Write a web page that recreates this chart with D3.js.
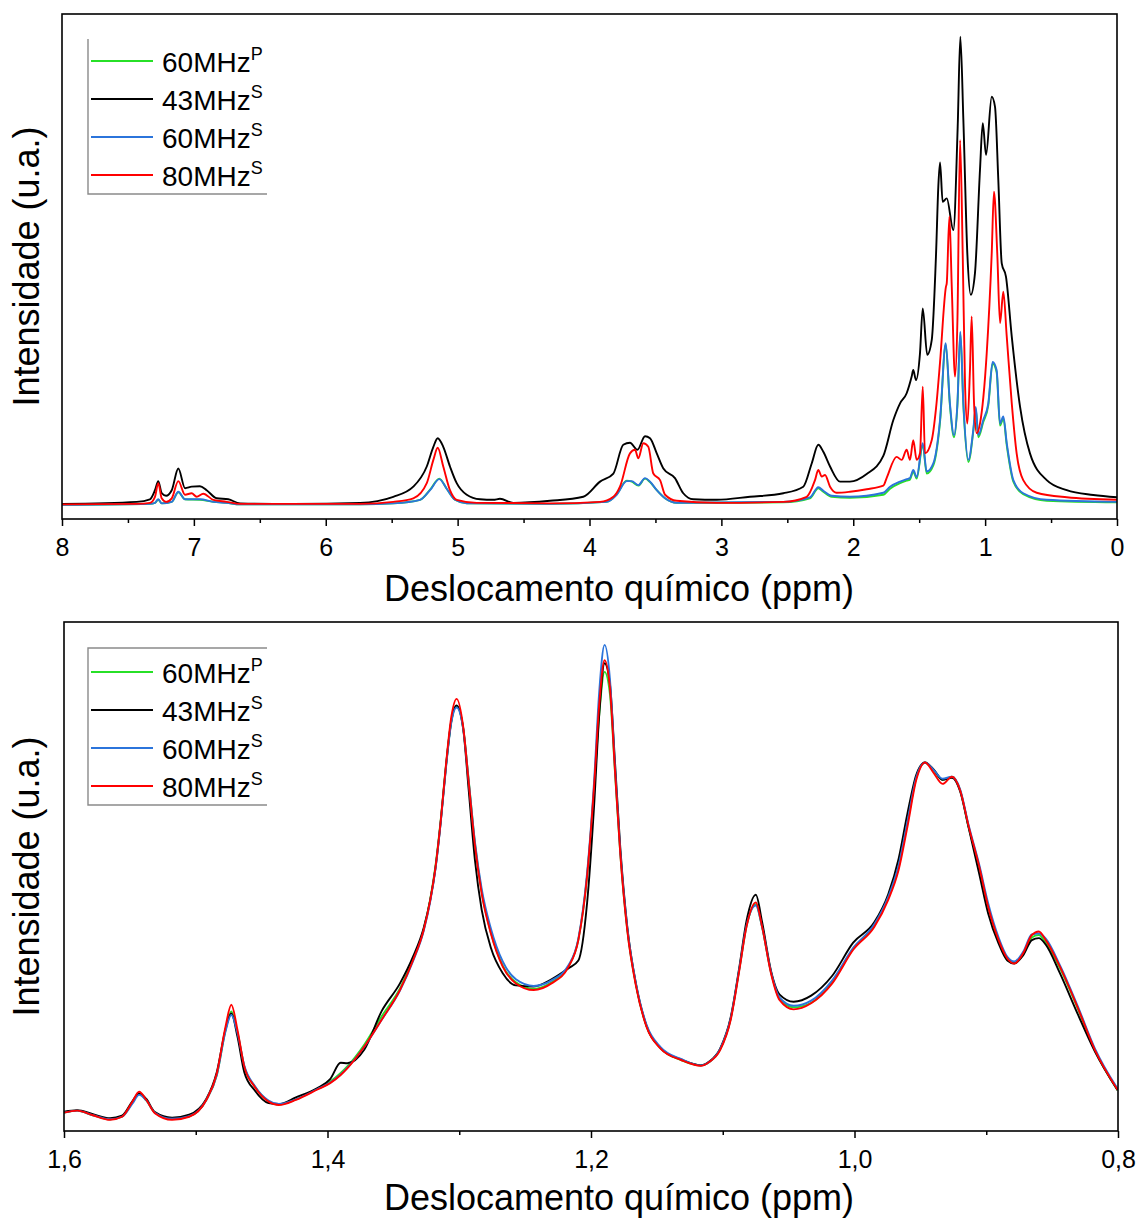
<!DOCTYPE html>
<html>
<head>
<meta charset="utf-8">
<script src="https://cdn.jsdelivr.net/npm/d3@7"></script>
<style>
body{margin:0;background:#fff;}
text{font-family:"Liberation Sans",Arial,sans-serif;fill:#000;}
</style>
</head>
<body>
<svg id="chart" width="1143" height="1220"></svg>
<script>
// legend labels (name + superscript) and colours, in drawing order
var seriesNames = ["60MHz", "43MHz", "60MHz", "80MHz"];
var seriesSup = ["P", "S", "S", "S"];
var seriesColors = ["#27e027", "#000000", "#2b74db", "#ff0000"];

// ---- full spectrum (8 - 0 ppm), each trace ----
var fullTicks = [8, 7, 6, 5, 4, 3, 2, 1, 0];
var fullMinor = [7.5, 6.5, 5.5, 4.5, 3.5, 2.5, 1.5, 0.5];

var fullGreenPpm = [8.000,7.333,7.295,7.270,7.244,7.168,7.118,7.067,6.954,6.853,6.751,6.650,5.740,5.488,5.285,5.209,5.139,5.083,5.020,4.931,4.300,3.870,3.794,3.718,3.680,3.630,3.579,3.541,3.490,3.427,3.339,2.530,2.328,2.265,2.227,2.163,2.025,1.772,1.721,1.645,1.595,1.570,1.545,1.519,1.473,1.443,1.393,1.342,1.299,1.267,1.236,1.210,1.188,1.165,1.127,1.090,1.071,1.052,1.014,0.976,0.943,0.913,0.887,0.862,0.836,0.786,0.711,0.533,0.000];
var fullGreen = [2.8,3.0,3.2,3.8,3.1,3.4,5.3,3.9,3.8,3.4,3.2,2.9,2.9,3.1,3.8,5.8,8.0,6.0,3.8,3.1,3.0,3.4,4.9,7.6,7.4,6.6,8.0,7.3,5.7,4.1,3.2,3.3,4.1,6.1,5.4,4.4,4.2,4.8,6.0,7.1,7.6,7.8,9.4,8.0,14.6,9.0,10.6,19.2,34.5,22.5,16.2,22.6,36.8,22.5,11.3,17.3,21.9,16.2,19.2,22.5,30.8,29.1,18.5,19.9,14.6,7.4,4.9,3.6,3.3];

var fullBlackPpm = [8.000,7.434,7.333,7.295,7.270,7.244,7.211,7.168,7.118,7.067,7.017,6.954,6.903,6.827,6.739,6.650,6.246,5.740,5.488,5.336,5.234,5.184,5.151,5.109,5.058,5.007,4.931,4.830,4.729,4.679,4.578,4.300,4.047,3.920,3.819,3.744,3.693,3.637,3.579,3.541,3.490,3.440,3.352,3.289,3.213,3.036,2.783,2.530,2.379,2.315,2.265,2.227,2.176,2.100,2.025,1.898,1.772,1.696,1.645,1.595,1.557,1.545,1.524,1.494,1.473,1.439,1.405,1.372,1.355,1.342,1.322,1.291,1.241,1.208,1.188,1.165,1.135,1.109,1.077,1.039,1.018,0.993,0.950,0.925,0.900,0.874,0.842,0.798,0.735,0.660,0.533,0.381,0.180,0.000];
var fullBlack = [3.0,3.4,3.9,5.7,7.5,5.1,4.6,5.7,10.0,6.1,6.4,6.5,5.7,4.1,3.9,3.1,3.0,3.2,4.4,6.4,10.4,14.3,16.0,14.3,10.4,7.1,4.8,3.9,3.8,4.0,3.2,3.6,4.4,7.4,9.0,14.7,15.1,13.7,16.4,16.0,13.0,10.0,8.1,5.1,3.9,3.8,4.4,5.1,6.4,11.0,14.7,13.3,10.4,7.4,7.4,8.9,12.5,19.6,22.9,24.9,28.2,29.5,27.5,32.8,41.7,32.5,35.4,52.6,65.8,70.6,62.8,63.5,57.2,77.7,95.5,79.0,52.6,44.4,48.7,69.1,78.4,72.1,83.6,81.6,67.1,50.6,48.0,36.1,22.2,13.0,7.7,5.7,4.75,4.3];

var fullBluePpm = fullGreenPpm;
var fullBlue = [2.8,3.0,3.2,3.9,3.1,3.4,5.4,3.9,3.9,3.4,3.2,2.9,2.9,3.1,3.8,5.7,7.9,6.0,3.8,3.1,3.0,3.4,4.8,7.5,7.5,6.7,8.1,7.4,5.7,4.1,3.2,3.4,4.3,6.3,5.6,4.6,4.4,5.2,6.4,7.4,7.9,8.1,9.7,8.3,15.0,9.4,11.0,19.6,34.8,22.9,16.6,22.9,37.1,22.9,11.7,17.6,22.2,16.6,19.6,22.9,31.1,29.5,18.9,20.3,15.0,7.7,5.1,3.8,3.4];

var fullRedPpm = [8.000,7.434,7.333,7.295,7.270,7.244,7.211,7.168,7.118,7.067,7.017,6.979,6.929,6.853,6.751,6.650,5.740,5.488,5.336,5.234,5.184,5.151,5.109,5.058,5.007,4.855,4.300,3.920,3.819,3.769,3.693,3.655,3.630,3.592,3.554,3.516,3.465,3.427,3.339,3.036,2.530,2.353,2.290,2.265,2.239,2.214,2.176,2.126,2.025,1.898,1.772,1.747,1.671,1.633,1.595,1.570,1.545,1.519,1.494,1.473,1.456,1.405,1.372,1.342,1.297,1.291,1.271,1.253,1.228,1.210,1.190,1.170,1.152,1.135,1.115,1.102,1.084,1.064,1.039,0.988,0.950,0.933,0.908,0.887,0.862,0.836,0.798,0.761,0.711,0.609,0.381,0.000];
var fullRed = [2.9,3.0,3.2,4.4,7.1,4.1,3.4,4.1,7.5,4.8,5.1,4.4,5.0,3.8,3.4,3.0,3.0,3.4,4.1,7.1,11.7,14.1,10.4,5.7,3.8,3.2,3.1,3.4,4.4,6.4,13.0,13.7,12.0,15.0,14.3,9.0,7.7,4.8,3.6,3.2,3.4,4.4,7.7,9.7,8.4,8.7,6.4,5.2,5.4,5.9,6.6,8.1,12.3,11.7,13.7,11.7,15.6,11.7,13.0,26.2,13.0,15.6,22.0,31.0,46.0,46.7,59.9,46.0,28.2,39.4,75.0,52.6,26.2,18.9,29.5,40.1,22.9,17.0,18.9,32.8,52.6,64.8,52.6,38.8,45.0,36.1,22.9,13.0,7.7,5.2,4.3,3.8];

// ---- expanded region (1,6 - 0,8 ppm), shared ppm grid ----
var zoomTicks = [1.6, 1.4, 1.2, 1.0, 0.8];
var zoomMinor = [1.5, 1.3, 1.1, 0.9];
var zoomPpm = [1.600,1.590,1.578,1.565,1.556,1.548,1.543,1.5375,1.531,1.518,1.505,1.492,1.484,1.4774,1.473,1.4683,1.4631,1.4553,1.4448,1.437,1.424,1.408,1.398,1.390,1.385,1.372,1.359,1.345,1.335,1.327,1.322,1.318,1.314,1.310,1.306,1.302,1.297,1.293,1.288,1.283,1.276,1.267,1.257,1.2435,1.230,1.217,1.2096,1.203,1.1977,1.1937,1.1897,1.1857,1.1818,1.1778,1.1725,1.1658,1.1579,1.1472,1.1312,1.1167,1.110,1.102,1.094,1.0874,1.082,1.0749,1.0701,1.0634,1.0568,1.0462,1.0329,1.0169,1.001,0.985,0.9744,0.9665,0.9598,0.9531,0.9465,0.9398,0.9332,0.926,0.9199,0.9133,0.9053,0.8986,0.8906,0.884,0.8787,0.872,0.8654,0.8601,0.8548,0.8441,0.8308,0.8175,0.8003];
var zoomGreen = [3.6,4.0,3.1,2.3,2.8,5.6,7.3,6.0,3.6,2.4,2.9,6.1,11.0,19.8,23.5,19.3,12.6,8.8,5.9,5.2,6.2,8.3,9.7,11.4,12.7,17.0,22.5,28.0,33.8,39.6,45.6,52.2,61.3,72.0,80.5,83.5,79.2,69.4,56.3,47.0,39.0,32.5,29.2,27.9,29.2,32.4,37.6,50.0,67.0,82.0,90.2,86.0,70.5,54.6,39.6,28.6,20.6,16.3,13.9,12.9,13.6,16.0,22.0,31.8,40.2,44.5,40.0,31.2,26.0,24.3,25.2,29.2,35.8,40.4,45.9,52.0,60.6,69.4,72.4,70.8,69.0,69.6,67.0,59.6,51.7,44.2,37.4,33.6,33.0,34.7,38.0,38.5,37.0,32.0,24.2,15.8,8.0];
var zoomBlack = [3.8,4.1,3.3,2.5,3.0,5.9,7.4,6.3,3.7,2.6,3.2,6.3,11.6,20.0,23.1,18.5,11.5,8.0,5.5,5.3,6.6,8.4,10.2,13.4,13.3,16.0,23.5,29.0,34.3,39.9,45.4,51.7,60.9,71.8,80.6,83.6,79.0,67.5,53.0,43.5,36.0,31.0,28.6,28.4,29.8,32.0,33.5,44.7,63.7,82.0,91.9,88.0,72.5,55.8,40.2,28.8,20.7,16.3,14.0,12.9,13.7,16.2,22.3,32.2,41.2,46.4,41.0,31.5,26.8,25.4,26.6,30.5,37.0,41.0,46.5,53.5,62.4,70.0,72.4,71.0,69.0,69.4,66.8,59.5,50.5,42.8,36.8,33.5,32.9,34.5,37.5,37.9,36.6,31.0,23.1,15.6,8.0];
var zoomBlue = [3.6,4.0,3.1,2.3,2.8,5.4,7.1,6.0,3.6,2.4,2.9,6.1,11.0,19.6,22.8,19.2,12.8,8.9,6.0,5.3,6.2,8.2,9.5,11.1,12.4,16.6,21.8,27.6,33.4,39.3,45.1,51.6,60.8,71.6,80.3,83.2,79.0,69.2,56.6,47.6,39.8,33.3,29.8,28.5,29.6,32.6,37.8,50.6,68.5,86.5,95.5,89.0,71.5,55.0,40.0,28.9,20.9,16.5,14.1,12.9,13.6,16.1,22.1,31.9,40.3,44.3,40.0,31.3,26.2,24.6,25.6,29.6,36.0,40.6,46.0,52.2,60.8,69.5,72.4,70.9,69.2,69.6,67.2,60.0,52.3,44.8,38.0,34.2,33.3,35.2,38.6,38.8,37.8,32.6,24.7,16.2,8.3];
var zoomRed = [3.6,4.0,3.1,2.2,2.8,5.8,7.7,6.1,3.5,2.2,2.8,6.1,11.3,20.5,24.8,19.8,12.6,8.7,5.8,5.1,6.1,8.1,9.4,11.0,12.3,16.6,21.8,27.7,33.6,39.5,45.4,51.9,61.1,72.2,81.4,84.9,79.4,69.0,55.9,46.7,38.8,32.3,29.0,27.7,29.0,32.3,37.5,50.0,67.6,84.0,92.5,87.3,70.9,54.6,39.5,28.4,20.5,16.2,13.9,12.8,13.6,15.9,21.8,31.6,40.1,44.9,40.1,31.0,25.7,23.9,25.1,29.0,35.6,40.1,45.4,51.3,59.8,69.0,72.4,70.3,68.2,69.6,67.0,59.8,51.9,44.1,37.5,33.9,32.9,34.9,38.5,39.2,37.5,32.3,24.4,15.9,8.1];

var svg = d3.select("#chart");

var commaFmt = d3.formatLocale({decimal: ",", thousands: ".", grouping: [3], currency: ["", ""]}).format(".1f");

function drawPanel(p) {
  var x = d3.scaleLinear().domain(p.domain).range([p.left, p.right]);
  var y = d3.scaleLinear().domain([0, 100]).range([p.bottom, p.top]);

  var clipId = "clip" + p.id;
  svg.append("clipPath").attr("id", clipId)
    .append("rect")
      .attr("x", p.left).attr("y", p.top)
      .attr("width", p.right - p.left).attr("height", p.bottom - p.top);

  var line = d3.line()
    .x(function(d) { return x(d[0]); })
    .y(function(d) { return y(d[1]); })
    .curve(d3.curveMonotoneX);

  var g = svg.append("g").attr("clip-path", "url(#" + clipId + ")");
  p.series.forEach(function(s, i) {
    var pts = s.ppm.map(function(v, k) { return [v, s.val[k]]; });
    g.append("path")
      .attr("d", line(pts))
      .attr("fill", "none")
      .attr("stroke", seriesColors[i])
      .attr("stroke-width", 1.9)
      .attr("stroke-linejoin", "round");
  });

  // frame
  svg.append("rect")
    .attr("x", p.left).attr("y", p.top)
    .attr("width", p.right - p.left).attr("height", p.bottom - p.top)
    .attr("fill", "none").attr("stroke", "#000").attr("stroke-width", 1.6);

  // minor ticks
  var minorAxis = svg.append("g")
    .attr("transform", "translate(0," + p.bottom + ")")
    .call(d3.axisBottom(x).tickValues(p.minor).tickSize(4).tickFormat(""));
  minorAxis.select(".domain").remove();
  minorAxis.selectAll("line").attr("stroke-width", 1.5);

  // major ticks + labels
  var majorAxis = svg.append("g")
    .attr("transform", "translate(0," + p.bottom + ")")
    .call(d3.axisBottom(x).tickValues(p.ticks).tickSize(7).tickPadding(12).tickFormat(p.fmt));
  majorAxis.select(".domain").remove();
  majorAxis.selectAll("line").attr("stroke-width", 1.5);
  majorAxis.selectAll("text")
    .attr("font-size", 25)
    .style("font-family", "'Liberation Sans', Arial, sans-serif");

  // axis titles
  svg.append("text")
    .attr("x", 619).attr("y", p.bottom + p.titleGap)
    .attr("text-anchor", "middle")
    .attr("font-size", 36)
    .text("Deslocamento químico (ppm)");

  svg.append("text")
    .attr("transform", "translate(39," + ((p.top + p.bottom) / 2) + ") rotate(-90)")
    .attr("text-anchor", "middle")
    .attr("font-size", 36)
    .text("Intensidade (u.a.)");

  // legend: open box, grey border
  var lg = p.legend;
  var border = (lg.topLine ? "M" + lg.x1 + "," + lg.y0 + "H" + lg.x0 : "M" + lg.x0 + "," + lg.y0) +
    "V" + lg.y1 + "H" + lg.x1;
  svg.append("path").attr("d", border)
    .attr("fill", "none").attr("stroke", "#8a8a8a").attr("stroke-width", 1.4);

  lg.rows.forEach(function(ry, i) {
    svg.append("line")
      .attr("x1", lg.x0 + 3).attr("x2", lg.x0 + 65)
      .attr("y1", ry).attr("y2", ry)
      .attr("stroke", seriesColors[i]).attr("stroke-width", 2);
    var t = svg.append("text")
      .attr("x", lg.x0 + 74).attr("y", ry + 10.5)
      .attr("font-size", 28);
    t.append("tspan").text(seriesNames[i]);
    t.append("tspan").attr("font-size", 18).attr("dy", -12).text(seriesSup[i]);
  });
}

drawPanel({
  id: "full", left: 62, right: 1117, top: 14, bottom: 519, titleGap: 82,
  domain: [8, 0], ticks: fullTicks, minor: fullMinor, fmt: d3.format("d"),
  series: [
    {ppm: fullGreenPpm, val: fullGreen},
    {ppm: fullBlackPpm, val: fullBlack},
    {ppm: fullBluePpm, val: fullBlue},
    {ppm: fullRedPpm, val: fullRed}
  ],
  legend: {x0: 88, x1: 267, y0: 39, y1: 194, topLine: false, rows: [61, 99, 137, 175]}
});

drawPanel({
  id: "zoom", left: 64, right: 1118, top: 622, bottom: 1131, titleGap: 79,
  domain: [1.6, 0.8], ticks: zoomTicks, minor: zoomMinor, fmt: commaFmt,
  series: [
    {ppm: zoomPpm, val: zoomGreen},
    {ppm: zoomPpm, val: zoomBlack},
    {ppm: zoomPpm, val: zoomBlue},
    {ppm: zoomPpm, val: zoomRed}
  ],
  legend: {x0: 88, x1: 267, y0: 648, y1: 805, topLine: true, rows: [672, 710, 748, 786]}
});
</script>
</body>
</html>
